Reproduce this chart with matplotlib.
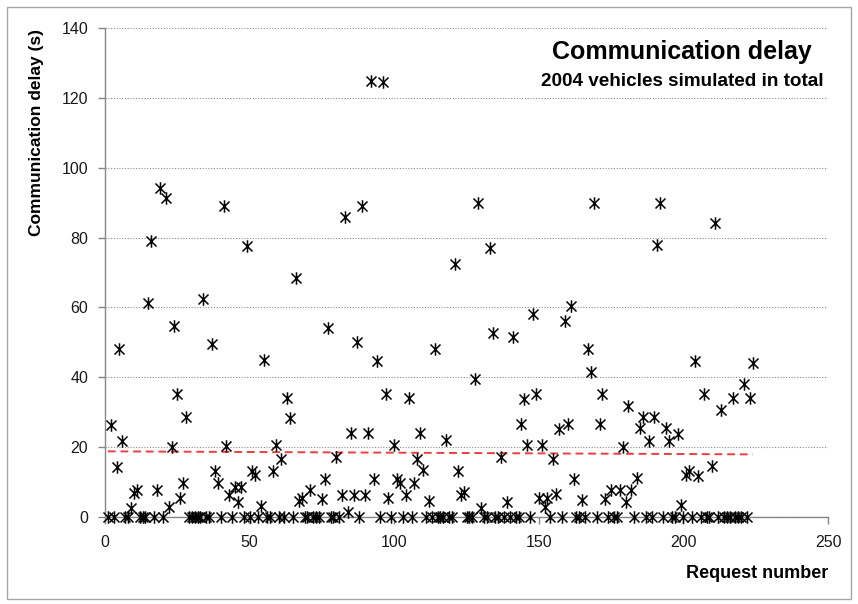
import numpy as np
import matplotlib
matplotlib.use("Agg")
import matplotlib.pyplot as plt
from matplotlib.path import Path
from matplotlib.patches import Rectangle

plt.rcParams['font.family'] = ['Liberation Sans', 'DejaVu Sans']

# Request numbers 1..224 and the measured communication delay (s)
request = list(range(1, 225))
delay = [
    0, 26.4, 0, 14.4, 48.1, 21.8, 0, 0, 2.6, 6.9,          # 1-10
    7.7, 0, 0, 0, 61.4, 79.1, 0, 7.7, 94.1, 0,             # 11-20
    91.2, 3.0, 19.9, 54.8, 35.2, 5.3, 9.6, 28.6, 0, 0,     # 21-30
    0, 0, 0, 62.3, 0, 0, 49.4, 13.3, 9.8, 0,               # 31-40
    89.0, 20.3, 6.3, 0, 8.5, 4.2, 8.5, 0, 77.6, 0,         # 41-50
    13.3, 12.0, 0, 3.1, 44.9, 0, 0, 13.3, 20.6, 0,         # 51-60
    16.5, 0, 34.0, 28.4, 0, 68.4, 4.7, 5.5, 0, 0,          # 61-70
    7.7, 0, 0, 0, 5.1, 11.0, 54.0, 0, 0, 17.2,             # 71-80
    0, 6.3, 85.8, 1.3, 24.0, 6.3, 50.2, 0, 89.0, 6.3,      # 81-90
    24.0, 124.8, 11.0, 44.7, 0, 124.6, 35.2, 5.3, 0, 20.6, # 91-100
    11.0, 9.6, 0, 6.3, 34.0, 0, 9.6, 16.5, 24.0, 13.4,     # 101-110
    0, 4.7, 0, 48.0, 0, 0, 0, 22.0, 0, 0,                  # 111-120
    72.3, 13.3, 6.3, 7.2, 0, 0, 0, 39.6, 89.8, 2.5,        # 121-130
    0, 0, 76.9, 52.8, 0, 0, 17.1, 0, 4.4, 0,               # 131-140
    51.4, 0, 0, 26.6, 33.7, 20.6, 0, 58.1, 35.2, 5.3,      # 141-150
    20.6, 2.9, 5.3, 0, 16.5, 6.6, 25.1, 0, 56.1, 26.6,     # 151-160
    60.4, 11.0, 0, 0, 5.0, 0, 48.1, 41.4, 89.9, 0,         # 161-170
    26.5, 35.3, 5.1, 0, 7.7, 0, 0, 7.7, 20.0, 4.4,         # 171-180
    31.8, 7.7, 0, 11.2, 25.4, 28.5, 0, 21.8, 0, 28.5,      # 181-190
    77.8, 89.9, 0, 25.4, 21.8, 0, 0, 23.8, 3.3, 0,         # 191-200
    12.0, 13.3, 0, 44.7, 11.8, 0, 35.2, 0, 0, 14.5,        # 201-210
    84.3, 0, 30.6, 0, 0, 0, 34.0, 0, 0, 0,                 # 211-220
    38.1, 0, 34.0, 44.0,                                   # 221-224
]

title = "Communication delay"
subtitle = "2004 vehicles simulated in total"
xlabel = "Request number"
ylabel = "Communication delay (s)"
xticks = [0, 50, 100, 150, 200, 250]
yticks = [0, 20, 40, 60, 80, 100, 120, 140]

W, H = 858, 604
fig = plt.figure(figsize=(W / 100, H / 100), dpi=100)
fig.patch.set_facecolor('white')
fig.patches.append(Rectangle((7 / W, 5 / H), (W - 14) / W, (H - 12) / H,
                             transform=fig.transFigure, fill=False,
                             edgecolor='#a6a6a6', linewidth=1.0))

ax = fig.add_axes([105 / W, (H - 517) / H, 723 / W, 489 / H])

# Excel-like asterisk marker: X plus vertical bar
star = Path([(-1, -1), (1, 1), (-1, 1), (1, -1), (0, -1.25), (0, 1.25)],
            [Path.MOVETO, Path.LINETO, Path.MOVETO, Path.LINETO,
             Path.MOVETO, Path.LINETO])

ax.plot(request, delay, linestyle='none', marker=star, markersize=9,
        markeredgewidth=1.1, markeredgecolor='black', markerfacecolor='none',
        clip_on=False, zorder=3)

# linear trend line
coef = np.polyfit(request, delay, 1)
xr = np.array([request[0], request[-1]], dtype=float)
ax.plot(xr, np.polyval(coef, xr), color='#f03c3c', linestyle=(0, (4, 2.5)),
        linewidth=1.4, zorder=2)

ax.set_xlim(0, 250)
ax.set_ylim(0, 140)
ax.set_xticks(xticks)
ax.set_yticks(yticks)
ax.tick_params(axis='both', direction='out', length=5, width=1, color='#868686',
               labelsize=11.5, labelcolor='#1a1a1a')
ax.tick_params(axis='y', pad=7)
ax.tick_params(axis='x', pad=8)
for s in ['top', 'right']:
    ax.spines[s].set_visible(False)
for s in ['left', 'bottom']:
    ax.spines[s].set_color('#868686')
    ax.spines[s].set_linewidth(1.0)
ax.yaxis.grid(True, linestyle=(0, (1, 1.5)), color='#8c8c8c', linewidth=0.8)
ax.set_axisbelow(True)

fig.text(37 / W, 1 - 132 / H, ylabel, ha='center', va='center', rotation=90,
         fontsize=12.5, fontweight='bold')
fig.text(828 / W, 1 - 573 / H, xlabel, ha='right', va='center',
         fontsize=13, fontweight='bold')

fig.text(682 / W, 1 - 52 / H, title, ha='center', va='center',
         fontsize=18, fontweight='bold')
fig.text(682 / W, 1 - 82 / H, subtitle, ha='center', va='center',
         fontsize=13.6, fontweight='bold')

fig.savefig('out.png', dpi=100, facecolor='white')
